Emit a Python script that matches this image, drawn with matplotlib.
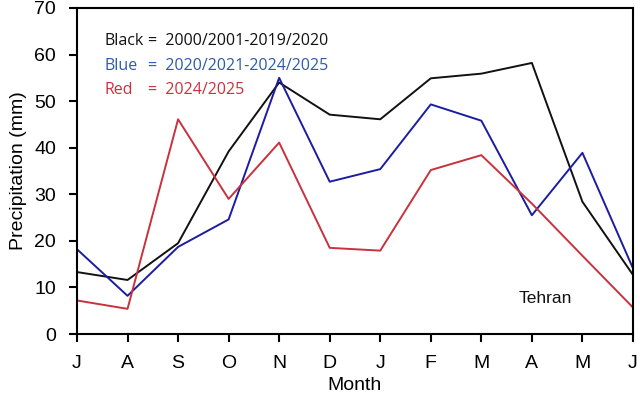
import matplotlib
matplotlib.use("Agg")
import matplotlib.pyplot as plt

months = ["J", "A", "S", "O", "N", "D", "J", "F", "M", "A", "M", "J"]
black_2000_2020 = [13.3, 11.6, 19.5, 39.2, 54.0, 47.1, 46.1, 54.9, 55.9, 58.2, 28.4, 12.7]
blue_2020_2025 = [18.2, 8.2, 18.7, 24.6, 55.0, 32.7, 35.4, 49.3, 45.8, 25.5, 38.9, 14.1]
red_2024_2025 = [7.2, 5.4, 46.1, 29.0, 41.1, 18.5, 17.9, 35.2, 38.4, 28.0, 16.8, 5.7]
yticks = [0, 10, 20, 30, 40, 50, 60, 70]

plt.rcParams['font.family'] = ['Liberation Sans', 'DejaVu Sans']

fig = plt.figure(figsize=(6.4, 4.03), dpi=100)
ax = fig.add_axes([0.1203, 0.1712, 0.8687, 0.8090])

x = list(range(len(months)))
ax.plot(x, black_2000_2020, color="#111111", lw=1.4)
ax.plot(x, blue_2020_2025, color="#1c1ca0", lw=1.4)
ax.plot(x, red_2024_2025, color="#c8323c", lw=1.4)

ax.set_xlim(0, len(months) - 1)
ax.set_ylim(0, 70)
ax.set_xticks(x)
ax.set_xticklabels(months)
ax.set_yticks(yticks)
for s in ax.spines.values():
    s.set_linewidth(1.5)
ax.tick_params(axis='both', direction='out', length=6, width=1.5, labelsize=14)
ax.tick_params(axis='y', pad=9)
ax.tick_params(axis='x', pad=9)
ax.set_xlabel("Month", fontsize=14, labelpad=4)
ax.set_ylabel("Precipitation (mm)", fontsize=14, labelpad=5)

lf = ['Open Sans', 'DejaVu Sans']
fs = 11.5
ax.text(0.05, 0.898, "Black", transform=ax.transAxes, fontsize=fs, color="#111111", family=lf, va='center')
ax.text(0.128, 0.898, "=  2000/2001-2019/2020", transform=ax.transAxes, fontsize=fs, color="#111111", family=lf, va='center')
ax.text(0.05, 0.822, "Blue", transform=ax.transAxes, fontsize=fs, color="#2f5aa8", family=lf, va='center')
ax.text(0.128, 0.822, "=  2020/2021-2024/2025", transform=ax.transAxes, fontsize=fs, color="#2f5aa8", family=lf, va='center')
ax.text(0.05, 0.748, "Red", transform=ax.transAxes, fontsize=fs, color="#c8323c", family=lf, va='center')
ax.text(0.128, 0.748, "=  2024/2025", transform=ax.transAxes, fontsize=fs, color="#c8323c", family=lf, va='center')

ax.text(9.27, 7.7, "Tehran", fontsize=12.5, ha='center', va='center', color="#111111")

fig.savefig("out.png", dpi=100)
